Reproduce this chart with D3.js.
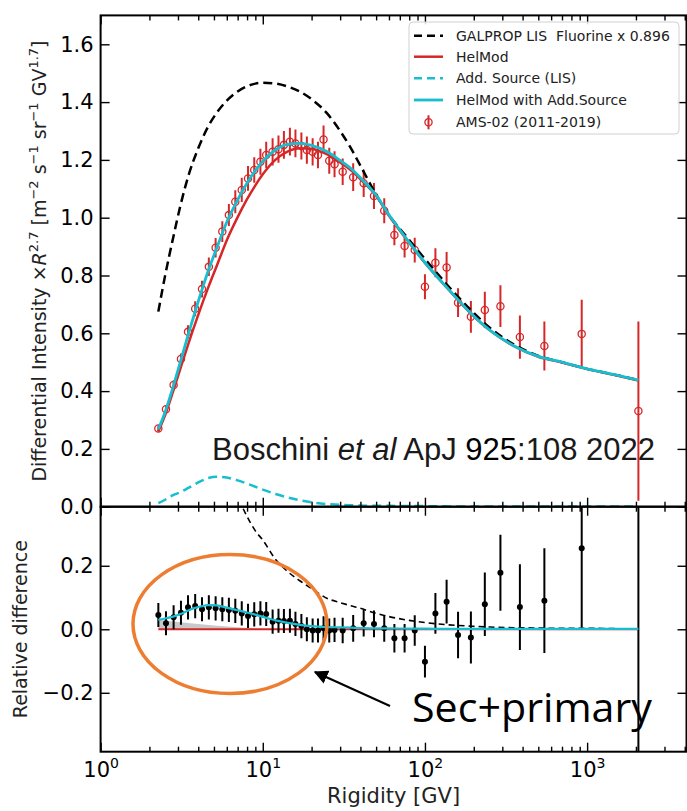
<!DOCTYPE html>
<html>
<head>
<meta charset="utf-8">
<script src="https://cdn.jsdelivr.net/npm/d3@7"></script>
<style>
  body { margin: 0; background: #fff; }
</style>
</head>
<body>
<div id="app"></div>
<script>
// ---- AMS-02 fluorine data (bin centres, GV) ----
const rigidity = [2.27, 2.53, 2.82, 3.13, 3.46, 3.83, 4.22, 4.65, 5.12, 5.63, 6.18, 6.77, 7.42, 8.11, 8.86, 9.67,
  10.5, 11.5, 12.5, 13.5, 14.7, 15.9, 17.3, 18.7, 20.3, 21.9, 23.7, 25.7, 27.7, 31.1, 36.1, 41.9, 48.5, 56.1,
  64.8, 74.9, 86.5, 100, 116, 136, 160, 192, 234, 292, 385, 545, 926, 2071];
const amsFlux = [0.271, 0.337, 0.421, 0.511, 0.605, 0.685, 0.753, 0.830, 0.896, 0.952, 1.009, 1.055, 1.096, 1.136,
  1.165, 1.194, 1.217, 1.228, 1.237, 1.252, 1.263, 1.257, 1.248, 1.234, 1.228, 1.217, 1.271, 1.197, 1.185, 1.159,
  1.140, 1.119, 1.075, 1.024, 0.940, 0.902, 0.888, 0.761, 0.844, 0.828, 0.706, 0.657, 0.681, 0.694, 0.587, 0.556,
  0.598, 0.331];
const amsErr = [0.010, 0.013, 0.016, 0.019, 0.023, 0.026, 0.029, 0.032, 0.034, 0.036, 0.038, 0.040, 0.042, 0.043,
  0.044, 0.045, 0.046, 0.047, 0.047, 0.048, 0.048, 0.048, 0.047, 0.047, 0.047, 0.046, 0.048, 0.045, 0.045, 0.046,
  0.048, 0.047, 0.045, 0.043, 0.035, 0.040, 0.043, 0.043, 0.050, 0.053, 0.050, 0.055, 0.063, 0.072, 0.075, 0.085,
  0.118, 0.31];
// relative difference to HelMod (lower panel); the last one lies below the panel
const relDiff = [0.045, 0.019, 0.038, 0.052, 0.069, 0.073, 0.063, 0.069, 0.066, 0.063, 0.061, 0.058, 0.050, 0.042,
  0.047, 0.050, 0.048, 0.024, 0.027, 0.026, 0.027, 0.017, 0.010, 0.000, -0.004, -0.004, 0.003, -0.004, -0.002,
  -0.004, 0.003, 0.019, 0.017, 0.003, -0.028, -0.028, -0.004, -0.102, 0.050, 0.087, -0.018, -0.026, 0.079, 0.178,
  0.070, 0.090, 0.255, -0.42];
const relErr = [0.038, 0.038, 0.038, 0.038, 0.038, 0.038, 0.038, 0.038, 0.038, 0.038, 0.038, 0.038, 0.038, 0.038,
  0.038, 0.038, 0.038, 0.038, 0.038, 0.038, 0.038, 0.038, 0.038, 0.038, 0.038, 0.038, 0.038, 0.038, 0.038, 0.040,
  0.042, 0.042, 0.042, 0.042, 0.045, 0.045, 0.048, 0.050, 0.064, 0.069, 0.073, 0.082, 0.100, 0.120, 0.135, 0.165,
  0.25, 0.85];

// ---- model curves ----
const modelR = [2.27, 2.5, 2.8, 3.1, 3.5, 4, 4.6, 5.2, 6, 7, 8, 9, 10, 12, 14, 17, 20, 25, 30, 35, 40, 50, 60, 80,
  100, 140, 190, 250, 350, 500, 700, 1000, 1500, 2071];
const galpropLis = [0.675, 0.80, 0.93, 1.04, 1.15, 1.24, 1.315, 1.363, 1.405, 1.437, 1.455, 1.464, 1.467, 1.464,
  1.455, 1.436, 1.41, 1.36, 1.30, 1.24, 1.18, 1.08, 1.01, 0.923, 0.857, 0.762, 0.683, 0.620, 0.563, 0.522,
  0.500, 0.477, 0.456, 0.438];
const helmod = [0.260, 0.317, 0.399, 0.477, 0.569, 0.664, 0.757, 0.833, 0.922, 1.002, 1.064, 1.112, 1.150, 1.201,
  1.227, 1.240, 1.238, 1.219, 1.191, 1.164, 1.133, 1.075, 1.007, 0.913, 0.843, 0.751, 0.671, 0.611, 0.557, 0.519,
  0.499, 0.476, 0.455, 0.437];
const helmodAdd = [0.268, 0.328, 0.415, 0.500, 0.603, 0.710, 0.815, 0.895, 0.985, 1.062, 1.120, 1.163, 1.195, 1.235,
  1.253, 1.257, 1.250, 1.228, 1.198, 1.170, 1.138, 1.078, 1.010, 0.915, 0.845, 0.752, 0.672, 0.612, 0.558, 0.520,
  0.500, 0.477, 0.456, 0.438];
const addSource = [0.012, 0.024, 0.040, 0.050, 0.066, 0.084, 0.099, 0.104, 0.101, 0.091, 0.080, 0.069, 0.059, 0.044,
  0.033, 0.022, 0.015, 0.009, 0.007, 0.005, 0.004, 0.003, 0.003, 0.002, 0.002, 0.001, 0.001, 0.001, 0.001, 0.001,
  0.0005, 0.0005, 0.0005, 0.0005];
// relative to HelMod (lower panel)
const relGalprop = [null, null, null, null, null, null, null, 0.65, 0.52, 0.42, 0.355, 0.31, 0.281, 0.22, 0.185,
  0.152, 0.128, 0.097, 0.084, 0.074, 0.066, 0.050, 0.040, 0.028, 0.021, 0.014, 0.010, 0.007, 0.005, 0.004, 0.003,
  0.003, 0.002, 0.001];
const relHelmodAdd = [0.029, 0.034, 0.040, 0.048, 0.060, 0.070, 0.076, 0.075, 0.068, 0.060, 0.053, 0.046, 0.039,
  0.028, 0.021, 0.014, 0.010, 0.007, 0.006, 0.005, 0.004, 0.003, 0.003, 0.002, 0.002, 0.001, 0.001, 0.001, 0.001,
  0.001, 0.001, 0.001, 0.001, 0.001];
const bandR = [2.27, 2.5, 3, 4, 5, 7, 9, 12];
const bandTop = [0.030, 0.028, 0.023, 0.017, 0.012, 0.006, 0.002, 0.0];

const yTopTicks = [0, 0.2, 0.4, 0.6, 0.8, 1.0, 1.2, 1.4, 1.6];
const yBotTicks = [-0.2, 0, 0.2];
const xMajor = [1, 10, 100, 1000];

const RED = "#d62728", CYAN = "#17becf";
const DEJAVU = "'DejaVu Sans', sans-serif";

const svg = d3.select("#app").append("svg")
    .attr("width", 687)
    .attr("height", 811)
    .attr("font-family", DEJAVU);

let x = d3.scaleLog().domain([1, 4100]).range([100.6, 686.5]);
let yTop = d3.scaleLinear().domain([0, 1.7]).range([506.7, 15.4]);
let yBot = d3.scaleLinear().domain([-0.3855, 0.386]).range([751.7, 506.7]);

let xMinor = [];
for (let k = 0; k < 4; k++)
    for (let m = 2; m < 10; m++)
        if (m * Math.pow(10, k) <= 4100) xMinor.push(m * Math.pow(10, k));

        //clip paths for both panels
let defs = svg.append("defs");
[["clipTop", yTop], ["clipBot", yBot]].forEach(([id, y]) => {
    defs.append("clipPath").attr("id", id).append("rect")
        .attr("x", x.range()[0]).attr("y", y.range()[1])
        .attr("width", x.range()[1] - x.range()[0])
        .attr("height", y.range()[0] - y.range()[1]);
});

let topG = svg.append("g").attr("clip-path", "url(#clipTop)");
let botG = svg.append("g").attr("clip-path", "url(#clipBot)");

let model = modelR.map((r, i) => ({r, lis: galpropLis[i], hm: helmod[i], hma: helmodAdd[i], add: addSource[i],
    rlis: relGalprop[i], rhma: relHelmodAdd[i]}));
let data = rigidity.map((r, i) => ({r, f: amsFlux[i], e: amsErr[i], d: relDiff[i], de: relErr[i]}));

function curve(y, key) {
    return d3.line()
        .defined(d => d[key] != null)
        .x(d => x(d.r))
        .y(d => y(d[key]))
        .curve(d3.curveMonotoneX);
}

// ---------- upper panel ----------
topG.append("g").selectAll("line").data(data).enter().append("line")
    .attr("x1", d => x(d.r)).attr("x2", d => x(d.r))
    .attr("y1", d => yTop(d.f - d.e)).attr("y2", d => yTop(d.f + d.e))
    .attr("stroke", RED).attr("stroke-width", 2);
topG.append("g").selectAll("circle").data(data).enter().append("circle")
    .attr("cx", d => x(d.r)).attr("cy", d => yTop(d.f)).attr("r", 3.6)
    .attr("fill", "none").attr("stroke", RED).attr("stroke-width", 1.3);

topG.append("path").datum(model).attr("d", curve(yTop, "lis"))
    .attr("fill", "none").attr("stroke", "#000").attr("stroke-width", 2.5).attr("stroke-dasharray", "9,5");
topG.append("path").datum(model).attr("d", curve(yTop, "hm"))
    .attr("fill", "none").attr("stroke", RED).attr("stroke-width", 2.5);
topG.append("path").datum(model).attr("d", curve(yTop, "add"))
    .attr("fill", "none").attr("stroke", CYAN).attr("stroke-width", 2.5).attr("stroke-dasharray", "9,5");
topG.append("path").datum(model).attr("d", curve(yTop, "hma"))
    .attr("fill", "none").attr("stroke", CYAN).attr("stroke-width", 2.8);

// ---------- lower panel ----------
let band = bandR.map((r, i) => ({r, t: bandTop[i]}));
botG.append("path").datum(band)
    .attr("d", d3.area().x(d => x(d.r)).y0(yBot(0)).y1(d => yBot(d.t)))
    .attr("fill", "#9a9a9a").attr("fill-opacity", 0.55);
botG.append("line")
    .attr("x1", x(modelR[0])).attr("x2", x(modelR[modelR.length - 1]))
    .attr("y1", yBot(0)).attr("y2", yBot(0))
    .attr("stroke", RED).attr("stroke-width", 2);
botG.append("g").selectAll("line").data(data).enter().append("line")
    .attr("x1", d => x(d.r)).attr("x2", d => x(d.r))
    .attr("y1", d => yBot(d.d - d.de)).attr("y2", d => yBot(d.d + d.de))
    .attr("stroke", "#000").attr("stroke-width", 2);
botG.append("g").selectAll("circle").data(data).enter().append("circle")
    .attr("cx", d => x(d.r)).attr("cy", d => yBot(d.d)).attr("r", 3)
    .attr("fill", "#000");
botG.append("path").datum(model).attr("d", curve(yBot, "rlis"))
    .attr("fill", "none").attr("stroke", "#000").attr("stroke-width", 1.6).attr("stroke-dasharray", "6,4");
botG.append("path").datum(model).attr("d", curve(yBot, "rhma"))
    .attr("fill", "none").attr("stroke", CYAN).attr("stroke-width", 2.2);

// ---------- axes ----------
function tickAxis(axis, values, size, y0) {
    let g = svg.append("g").attr("transform", `translate(0,${y0})`)
        .call(axis.tickValues(values).tickSize(size).tickFormat(""));
    g.select(".domain").remove();
    g.selectAll(".tick line").attr("stroke", "#000").attr("stroke-width", 1.4);
    return g;
}

[yTop, yBot].forEach(y => {
    let yb = y.range()[0], yt = y.range()[1];
    tickAxis(d3.axisBottom(x), xMinor, -5, yb);
    tickAxis(d3.axisBottom(x), xMajor, -9, yb);
    tickAxis(d3.axisTop(x), xMinor, -5, yt);
    tickAxis(d3.axisTop(x), xMajor, -9, yt);
});

function yAxis(y, ticks, fmt) {
    let gl = svg.append("g").attr("transform", `translate(${x.range()[0]},0)`)
        .call(d3.axisLeft(y).tickValues(ticks).tickSize(-9).tickPadding(7).tickFormat(fmt));
    gl.select(".domain").remove();
    gl.selectAll(".tick line").attr("stroke", "#000").attr("stroke-width", 1.4);
    gl.selectAll(".tick text").attr("font-size", 21).attr("font-family", DEJAVU).attr("fill", "#000");
    let gr = svg.append("g").attr("transform", `translate(${x.range()[1]},0)`)
        .call(d3.axisRight(y).tickValues(ticks).tickSize(-9).tickFormat(""));
    gr.select(".domain").remove();
    gr.selectAll(".tick line").attr("stroke", "#000").attr("stroke-width", 1.4);
}
yAxis(yTop, yTopTicks, d3.format(".1f"));
yAxis(yBot, yBotTicks, d => d3.format(".1f")(d).replace("-", "\u2212"));

        //x tick labels 10^n under the lower panel
let xl = svg.append("g").attr("transform", `translate(0,${yBot.range()[0]})`)
    .call(d3.axisBottom(x).tickValues(xMajor).tickSize(0).tickPadding(10).tickFormat(""));
xl.select(".domain").remove();
xl.selectAll(".tick text").each(function (d) {
    let t = d3.select(this).attr("font-size", 21).attr("font-family", DEJAVU).attr("fill", "#000");
    t.append("tspan").text("10");
    t.append("tspan").attr("dy", "-9").attr("font-size", 14).text(Math.round(Math.log10(d)));
});

        //panel frames
[yTop, yBot].forEach(y => {
    svg.append("rect")
        .attr("x", x.range()[0]).attr("y", y.range()[1])
        .attr("width", x.range()[1] - x.range()[0]).attr("height", y.range()[0] - y.range()[1])
        .attr("fill", "none").attr("stroke", "#000").attr("stroke-width", 2);
});

// ---------- axis titles ----------
let yl = svg.append("text")
    .attr("transform", `translate(46,${(yTop.range()[0] + yTop.range()[1]) / 2}) rotate(-90)`)
    .attr("text-anchor", "middle").attr("font-size", 19).attr("fill", "#222");
yl.append("tspan").text("Differential Intensity \u00d7");
yl.append("tspan").attr("font-style", "italic").text("R");
yl.append("tspan").attr("dy", -8).attr("font-size", 13).text("2.7");
yl.append("tspan").attr("dy", 8).text(" [m");
yl.append("tspan").attr("dy", -8).attr("font-size", 13).text("\u22122");
yl.append("tspan").attr("dy", 8).text(" s");
yl.append("tspan").attr("dy", -8).attr("font-size", 13).text("\u22121");
yl.append("tspan").attr("dy", 8).text(" sr");
yl.append("tspan").attr("dy", -8).attr("font-size", 13).text("\u22121");
yl.append("tspan").attr("dy", 8).text(" GV");
yl.append("tspan").attr("dy", -8).attr("font-size", 13).text("1.7");
yl.append("tspan").attr("dy", 8).text("]");

svg.append("text")
    .attr("transform", `translate(27,${(yBot.range()[0] + yBot.range()[1]) / 2}) rotate(-90)`)
    .attr("text-anchor", "middle").attr("font-size", 19).attr("fill", "#222")
    .text("Relative difference");

svg.append("text")
    .attr("x", (x.range()[0] + x.range()[1]) / 2).attr("y", 803)
    .attr("text-anchor", "middle").attr("font-size", 21).attr("fill", "#222")
    .text("Rigidity [GV]");

// ---------- legend ----------
let leg = svg.append("g").attr("transform", "translate(409,22)");
leg.append("rect").attr("width", 270).attr("height", 112).attr("rx", 4)
    .attr("fill", "#fff").attr("fill-opacity", 0.85).attr("stroke", "#d0d0d0");
let legendItems = [
    {label: "GALPROP LIS\u00a0\u00a0Fluorine x 0.896", color: "#000", dash: "8,5", w: 2.5},
    {label: "HelMod", color: RED, dash: null, w: 2.5},
    {label: "Add. Source (LIS)", color: CYAN, dash: "8,5", w: 2.5},
    {label: "HelMod with Add.Source", color: CYAN, dash: null, w: 2.8},
    {label: "AMS-02 (2011-2019)", color: RED, err: true}
];
let rowY = [13.7, 34.7, 56.3, 78, 100.3];
legendItems.forEach((it, i) => {
    let g = leg.append("g").attr("transform", `translate(0,${rowY[i]})`);
    if (it.err) {
        g.append("line").attr("x1", 19.5).attr("x2", 19.5).attr("y1", -7).attr("y2", 7)
            .attr("stroke", it.color).attr("stroke-width", 2);
        g.append("circle").attr("cx", 19.5).attr("cy", 0).attr("r", 3.6)
            .attr("fill", "none").attr("stroke", it.color).attr("stroke-width", 1.3);
    } else {
        g.append("line").attr("x1", 5).attr("x2", 34).attr("y1", 0).attr("y2", 0)
            .attr("stroke", it.color).attr("stroke-width", it.w)
            .attr("stroke-dasharray", it.dash);
    }
    g.append("text").attr("x", 47).attr("y", 0).attr("dy", "0.35em")
        .attr("font-size", 14).attr("fill", "#222").text(it.label);
});

// ---------- annotations ----------
let cite = svg.append("text").attr("x", 212).attr("y", 460)
    .attr("font-family", "'Liberation Sans', Arial, sans-serif")
    .attr("font-size", 31).attr("fill", "#1a1a1a");
cite.append("tspan").text("Boschini ");
cite.append("tspan").attr("font-style", "italic").text("et al");
cite.append("tspan").text(" ApJ ");
cite.append("tspan").attr("fill", "#000").text("925");
cite.append("tspan").text(":108 2022");

svg.append("ellipse")
    .attr("cx", 230).attr("cy", 624).attr("rx", 97).attr("ry", 69.5)
    .attr("fill", "none").attr("stroke", "#ed7d31").attr("stroke-width", 3.5);

defs.append("marker").attr("id", "arrow")
    .attr("viewBox", "0 0 10 10").attr("refX", 9).attr("refY", 5)
    .attr("markerWidth", 7).attr("markerHeight", 7).attr("markerUnits", "strokeWidth")
    .attr("orient", "auto")
    .append("path").attr("d", "M0,0 L10,5 L0,10 z").attr("fill", "#000");
svg.append("line")
    .attr("x1", 390).attr("y1", 706).attr("x2", 315).attr("y2", 672)
    .attr("stroke", "#000").attr("stroke-width", 2).attr("marker-end", "url(#arrow)");

svg.append("text").attr("x", 412).attr("y", 722)
    .attr("font-family", "'Open Sans', sans-serif").attr("font-size", 41).attr("fill", "#000")
    .attr("textLength", 240).attr("lengthAdjust", "spacingAndGlyphs")
    .text("Sec+primary");
</script>
</body>
</html>
